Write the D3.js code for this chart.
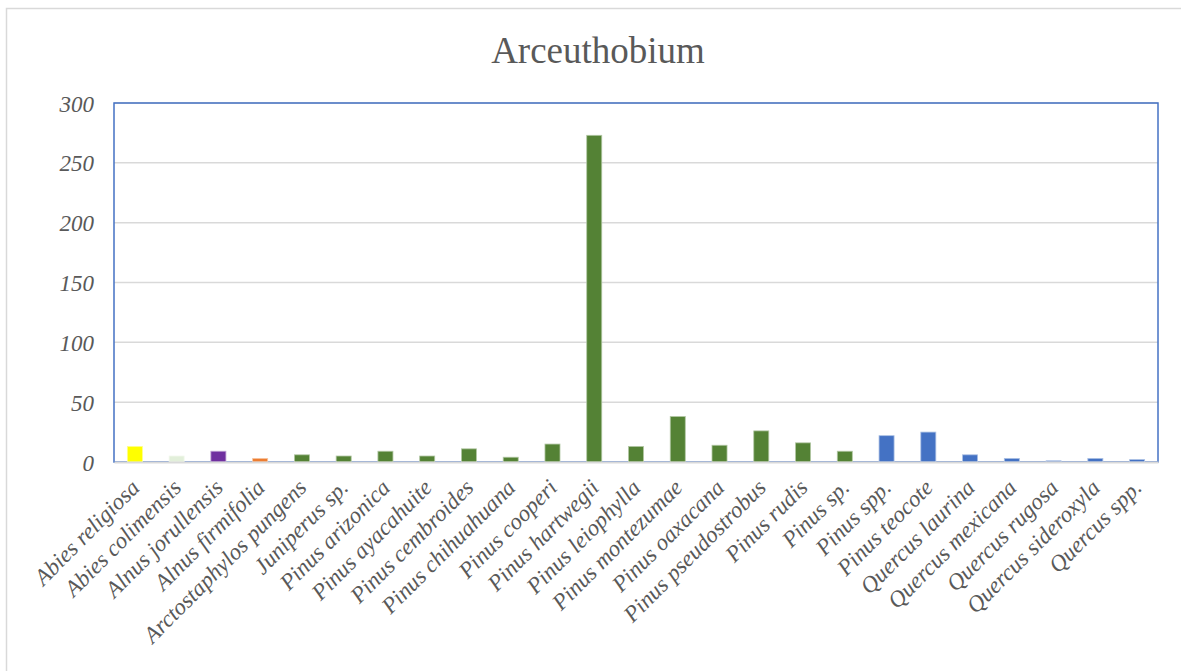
<!DOCTYPE html>
<html>
<head>
<meta charset="utf-8">
<script src="https://cdn.jsdelivr.net/npm/d3@7"></script>
<style>
  body { margin: 0; background: #fff; }
  svg text { font-family: "Liberation Serif", "Times New Roman", serif; fill: #595959; }
</style>
</head>
<body>
<div id="chart"></div>
<script>
// host species and Arceuthobium counts
const species = [
    "Abies religiosa", "Abies colimensis", "Alnus jorullensis", "Alnus firmifolia",
    "Arctostaphylos pungens", "Juniperus sp.", "Pinus arizonica", "Pinus ayacahuite",
    "Pinus cembroides", "Pinus chihuahuana", "Pinus cooperi", "Pinus hartwegii",
    "Pinus leiophylla", "Pinus montezumae", "Pinus oaxacana", "Pinus pseudostrobus",
    "Pinus rudis", "Pinus sp.", "Pinus spp.", "Pinus teocote", "Quercus laurina",
    "Quercus mexicana", "Quercus rugosa", "Quercus sideroxyla", "Quercus spp."
];
const counts = [13, 5, 9, 3, 6, 5, 9, 5, 11, 4, 15, 273, 13, 38, 14, 26, 16, 9, 22, 25, 6, 3, 1, 3, 2];
const yTicks = [0, 50, 100, 150, 200, 250, 300];

const barColors = [
    "#FFFF00", "#E2EFDA", "#7030A0", "#ED7D31",
    "#548235", "#548235", "#548235", "#548235", "#548235", "#548235", "#548235",
    "#548235", "#548235", "#548235", "#548235", "#548235", "#548235", "#548235",
    "#4472C4", "#4472C4", "#4472C4", "#4472C4", "#4472C4", "#4472C4", "#4472C4"
];

const W = 1181, H = 671;
const margin = { top: 103, right: 23, bottom: 209, left: 114 };
const width = W - margin.left - margin.right;
const height = H - margin.top - margin.bottom;

const svg = d3.select("#chart").append("svg")
    .attr("width", W)
    .attr("height", H);

// outer chart frame (runs off the right/bottom edge)
svg.append("rect")
    .attr("x", 6.5).attr("y", 8.5)
    .attr("width", W + 20).attr("height", H + 20)
    .attr("fill", "none")
    .attr("stroke", "#D9D9D9")
    .attr("stroke-width", 1.5);

svg.append("text")
    .attr("x", 598)
    .attr("y", 63)
    .attr("text-anchor", "middle")
    .style("font-size", "37px")
    .text("Arceuthobium");

const g = svg.append("g").attr("transform", `translate(${margin.left},${margin.top})`);

const x = d3.scaleBand()
    .domain(species)
    .range([0, width])
    .paddingInner(0.64)
    .paddingOuter(0.32);

const y = d3.scaleLinear().domain([0, 300]).range([height, 0]);

const color = d3.scaleOrdinal().domain(species).range(barColors);

// gridlines
g.append("g")
    .selectAll("line")
    .data(yTicks.slice(1))
    .join("line")
    .attr("x1", 0).attr("x2", width)
    .attr("y1", d => y(d)).attr("y2", d => y(d))
    .attr("stroke", "#D9D9D9")
    .attr("stroke-width", 1.5);

// plot area border
g.append("rect")
    .attr("x", 0).attr("y", 0)
    .attr("width", width).attr("height", height)
    .attr("fill", "none")
    .attr("stroke", "#4472C4")
    .attr("stroke-width", 1.5);

// bars
g.selectAll(".bar")
    .data(species.map((s, i) => ({ name: s, value: counts[i] })))
    .join("rect")
    .attr("class", "bar")
    .attr("x", d => x(d.name))
    .attr("y", d => y(d.value))
    .attr("width", x.bandwidth())
    .attr("height", d => height - y(d.value))
    .attr("fill", d => color(d.name))
    .attr("stroke", d => d3.interpolateRgb(color(d.name), "#fff")(0.55))
    .attr("stroke-width", 0.8);

// y axis
const yAxis = g.append("g")
    .call(d3.axisLeft(y).tickValues(yTicks).tickSize(0).tickPadding(20));
yAxis.select(".domain").remove();
yAxis.selectAll("text")
    .attr("dy", "0.35em")
    .style("font-size", "23px")
    .style("font-style", "italic")
    .style("fill", "#595959");

// x axis
const xAxis = g.append("g")
    .attr("transform", `translate(0,${height})`)
    .call(d3.axisBottom(x).tickSize(0).tickSizeOuter(0));
xAxis.select(".domain")
    .attr("stroke", "#D9D9D9")
    .attr("stroke-width", 2);
xAxis.selectAll("text")
    .style("font-size", "23px")
    .style("font-style", "italic")
    .style("fill", "#595959")
    .attr("text-anchor", "end")
    .attr("dy", 0)
    .attr("transform", "translate(6,27) rotate(-45)")
    .attr("x", 0)
    .attr("y", 0);
</script>
</body>
</html>
